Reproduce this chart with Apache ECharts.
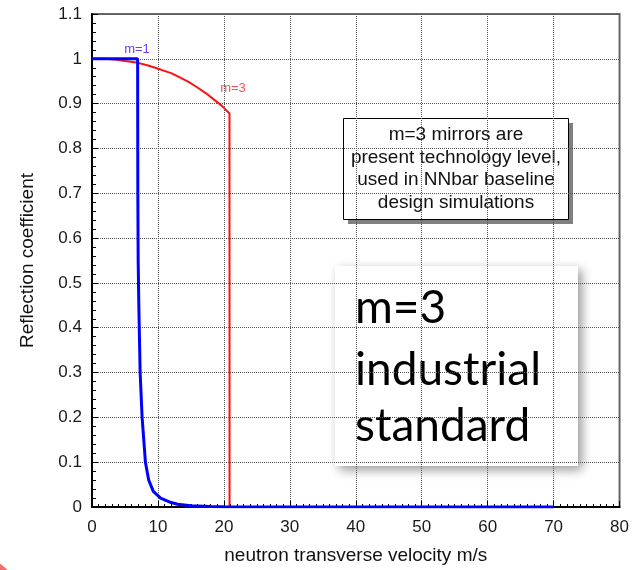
<!DOCTYPE html>
<html>
<head>
<meta charset="utf-8">
<script src="https://cdn.jsdelivr.net/npm/echarts@6/dist/echarts.min.js"></script>
<style>
  html, body { margin: 0; padding: 0; background: #fff; }
  #main { width: 632px; height: 570px; }
</style>
</head>
<body>
<div id="main"></div>
<script>
// m=1 mirror, reflection vs transverse velocity
const m1Velocity = [0, 6.92, 6.93, 6.95, 7.0, 7.1, 7.3, 7.6, 8.1, 8.6, 9.3, 10.4, 12, 13, 15, 18, 20, 70]
const m1Reflect = [1, 1, 0.9, 0.7, 0.55, 0.45, 0.3, 0.2, 0.1, 0.06, 0.035, 0.02, 0.01, 0.006, 0.003, 0.001, 0.0005, 0]
// m=3 mirror
const m3Velocity = [0, 2, 3.8, 5, 7, 8.5, 10.4, 12, 13.4, 14.7, 16, 17.3, 18.5, 19.7, 20.85, 20.86]
const m3Reflect = [1, 1, 0.998, 0.995, 0.991, 0.985, 0.976, 0.968, 0.958, 0.948, 0.936, 0.923, 0.909, 0.895, 0.878, 0]

const xTicks = [0, 80, 10]   // min, max, interval
const yTicks = [0, 1.1, 0.1]

const FONT = '"Liberation Sans", Arial, sans-serif'
const BIG = '46px Lato, sans-serif'

const pairs = (xs, ys) => xs.map((x, i) => [x, ys[i]])

const chart = echarts.init(document.getElementById('main'), null, {renderer: 'canvas'})

const option = {
  animation: false,
  backgroundColor: '#fff',
  grid: {
    left: 92,
    right: 11,
    top: 14,
    bottom: 59,
    show: true,
    borderColor: '#6a6a6a',
    borderWidth: 2
  },
  xAxis: {
    type: 'value',
    min: xTicks[0],
    max: xTicks[1],
    interval: xTicks[2],
    name: 'neutron transverse velocity m/s',
    nameLocation: 'middle',
    nameGap: 39,
    nameTextStyle: {color: '#111', fontSize: 19, fontFamily: FONT},
    axisLine: {lineStyle: {color: '#000', width: 2}},
    axisTick: {inside: true, length: 6, lineStyle: {color: '#000'}},
    minorTick: {show: true, splitNumber: 10, length: 3, lineStyle: {color: '#000'}},
    axisLabel: {color: '#1a1a1a', fontSize: 17, fontFamily: FONT, margin: 12},
    splitLine: {show: true, lineStyle: {color: '#555', type: 'dotted', width: 1}}
  },
  yAxis: {
    type: 'value',
    min: yTicks[0],
    max: yTicks[1],
    interval: yTicks[2],
    name: 'Reflection coefficient',
    nameLocation: 'middle',
    nameGap: 55,
    nameTextStyle: {color: '#111', fontSize: 19, fontFamily: FONT},
    axisLine: {show: true, lineStyle: {color: '#000', width: 2}},
    axisTick: {show: true, inside: true, length: 6, lineStyle: {color: '#000'}},
    minorTick: {show: true, splitNumber: 5, length: 4, lineStyle: {color: '#000'}},
    axisLabel: {color: '#1a1a1a', fontSize: 17, fontFamily: FONT, margin: 10},
    splitLine: {show: true, lineStyle: {color: '#555', type: 'dotted', width: 1}}
  },
  series: [
    {
      name: 'm=3',
      type: 'line',
      data: pairs(m3Velocity, m3Reflect),
      showSymbol: false,
      symbol: 'none',
      z: 2,
      lineStyle: {color: '#ff1010', width: 2}
    },
    {
      name: 'm=1',
      type: 'line',
      data: pairs(m1Velocity, m1Reflect),
      showSymbol: false,
      symbol: 'none',
      z: 3,
      lineStyle: {color: '#0000ff', width: 3}
    }
  ],
  graphic: [
    {
      type: 'text',
      x: 137, y: 49,
      style: {text: 'm=1', fill: '#6a3cff', font: '13px ' + FONT, textAlign: 'center', textVerticalAlign: 'middle'}
    },
    {
      type: 'text',
      x: 233, y: 88,
      style: {text: 'm=3', fill: '#ff5050', font: '13px ' + FONT, textAlign: 'center', textVerticalAlign: 'middle'}
    },
    // note box
    {
      type: 'rect',
      shape: {x: 348, y: 123, width: 225, height: 101},
      style: {fill: '#808080'}
    },
    {
      type: 'rect',
      shape: {x: 343.5, y: 118.5, width: 225, height: 101},
      style: {fill: '#fff', stroke: '#000', lineWidth: 1}
    },
    {
      type: 'text',
      x: 456, y: 169,
      style: {
        text: 'm=3 mirrors are\npresent technology level,\nused in NNbar baseline\ndesign simulations',
        fill: '#111', font: '19px ' + FONT, lineHeight: 22.5,
        textAlign: 'center', textVerticalAlign: 'middle'
      }
    },
    // big callout
    {
      type: 'rect',
      shape: {x: 335, y: 266, width: 243, height: 200},
      style: {fill: '#fff', shadowBlur: 10, shadowOffsetX: 4, shadowOffsetY: 4, shadowColor: 'rgba(0,0,0,0.4)'}
    },
    {
      type: 'text', x: 355, y: 308,
      style: {text: 'm=3', fill: '#000', font: BIG, textVerticalAlign: 'middle'}
    },
    {
      type: 'text', x: 355, y: 370,
      style: {text: 'industrial', fill: '#000', font: BIG, textVerticalAlign: 'middle'}
    },
    {
      type: 'text', x: 355, y: 426,
      style: {text: 'standard', fill: '#000', font: BIG, textVerticalAlign: 'middle'}
    },
    // red blob in the bottom-left corner
    {
      type: 'circle',
      shape: {cx: -20, cy: 596, r: 38},
      style: {fill: '#f07070'}
    }
  ]
}

chart.setOption(option)
</script>
</body>
</html>
